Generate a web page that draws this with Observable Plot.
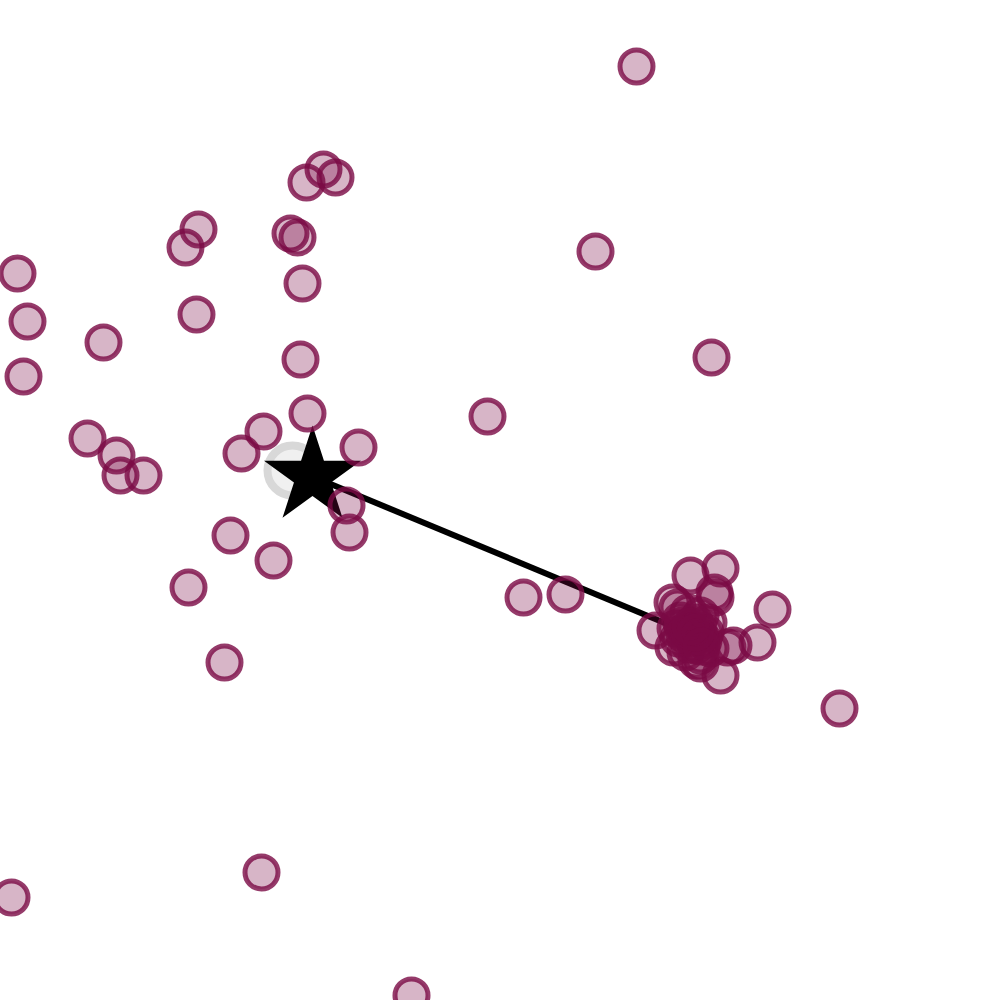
<!DOCTYPE html>
<html>
<head>
<meta charset="utf-8">
<script src="https://cdn.jsdelivr.net/npm/d3@7"></script>
<script src="https://cdn.jsdelivr.net/npm/@observablehq/plot@0.6"></script>
<style>
  body { margin: 0; background: white; }
  #chart svg { overflow: hidden; }
</style>
</head>
<body>
<div id="chart"></div>
<script>
// point positions (pixel-like units, 0..1000)
const px = [636, 323, 335, 306, 198, 185, 290, 297, 595, 17, 302, 27, 196, 103, 23, 300, 711,
  307, 487, 87, 263, 116, 241, 358, 120, 143, 346, 349, 230, 273, 188, 523, 565, 224, 839, 261, 11, 411,
  690, 720, 714, 715, 772, 677, 672, 655, 757, 733, 727, 720, 700, 673,
  680, 700, 690, 705, 678, 695, 710, 685, 700, 692, 688, 708, 675, 696,
  686, 698, 692, 682, 703, 694, 689, 699, 684, 695, 690, 701];
const py = [66, 169, 177, 182, 229, 247, 233, 237, 251, 273, 283, 321, 314, 342, 376, 359, 357,
  413, 416, 438, 431, 455, 453, 447, 475, 475, 505, 532, 535, 560, 587, 597, 594, 662, 708, 872, 897, 995,
  575, 568, 592, 597, 609, 607, 602, 630, 642, 645, 647, 675, 663, 647,
  620, 615, 628, 632, 638, 645, 648, 652, 655, 638, 612, 622, 628, 660,
  630, 628, 636, 625, 640, 622, 644, 636, 634, 632, 626, 646];

// centre being pointed from, and the cluster it points to
const star = {x: 312, y: 476};
const target = {x: 692, y: 634};
const ghost = {x: 292, y: 470};

const points = px.map((x, i) => ({x, y: py[i]}));

const chart = Plot.plot({
  width: 1000,
  height: 1000,
  margin: 0,
  x: {domain: [0, 1000], axis: null},
  y: {domain: [1000, 0], axis: null},
  marks: [
    Plot.link([{x1: star.x, y1: star.y, x2: target.x, y2: target.y}], {
      x1: "x1", y1: "y1", x2: "x2", y2: "y2",
      stroke: "black",
      strokeWidth: 6
    }),
    Plot.dot([ghost], {
      x: "x", y: "y", r: 25,
      fill: "#f0f0f0",
      stroke: "#d8d8d8",
      strokeWidth: 8
    }),
    Plot.dot([star], {
      x: "x", y: "y", r: 30.5,
      symbol: "star",
      fill: "black",
      stroke: "none"
    }),
    Plot.dot(points, {
      x: "x", y: "y", r: 16.5,
      fill: "#7a0a45",
      fillOpacity: 0.3,
      stroke: "#7a0a45",
      strokeOpacity: 0.8,
      strokeWidth: 5
    })
  ]
});

d3.select('#chart').append(() => chart);
</script>
</body>
</html>
